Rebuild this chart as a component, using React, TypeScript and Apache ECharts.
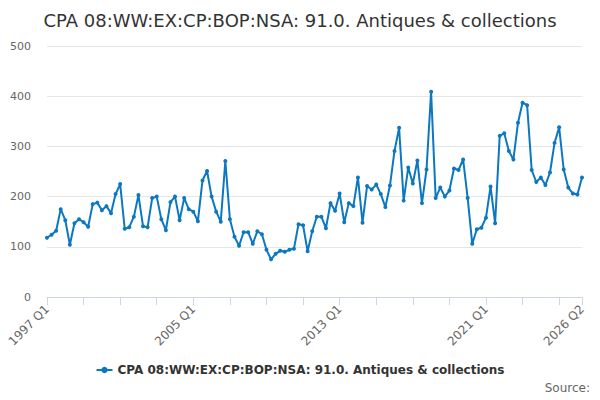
import React, { useEffect, useRef } from "react";
import * as echarts from "echarts";

const TITLE = "CPA 08:WW:EX:CP:BOP:NSA: 91.0. Antiques & collections";
const FIRST_YEAR = 1997;
const QUARTERS = ["Q1", "Q2", "Q3", "Q4"];
const values = [
  118, 124, 132, 175, 153, 104, 147, 155, 149, 140,
  185, 188, 173, 181, 167, 205, 225, 136, 139, 160,
  203, 141, 139, 197, 200, 155, 133, 189, 200, 153,
  197, 175, 170, 151, 232, 251, 200, 170, 150, 271,
  155, 120, 102, 129, 129, 106, 131, 125, 94, 75,
  86, 92, 90, 94, 96, 145, 143, 91, 131, 160,
  160, 137, 187, 172, 206, 149, 187, 181, 238, 148,
  221, 214, 224, 205, 179, 222, 291, 337, 192, 258,
  226, 272, 187, 254, 409, 197, 218, 200, 212, 256,
  253, 274, 197, 106, 135, 138, 158, 220, 147, 321,
  326, 291, 274, 347, 387, 382, 253, 229, 238, 223,
  248, 307, 338, 254, 218, 206, 204, 238,
];
const categories: string[] = values.map(
  (_, i) => `${FIRST_YEAR + Math.floor(i / 4)} ${QUARTERS[i % 4]}`
);
const yTicks = [0, 100, 200, 300, 400, 500];

export default function App() {
  const ref = useRef<HTMLDivElement>(null);
  useEffect(() => {
    if (!ref.current) return;
    const chart = echarts.init(ref.current, undefined, { renderer: "svg" });
    const last = categories.length - 1;
    const font = "'DejaVu Sans', Verdana, sans-serif";
    chart.setOption({
      animation: false,
      textStyle: { fontFamily: font },
      title: {
        text: TITLE,
        left: "center",
        top: 6,
        textStyle: { fontFamily: font, fontSize: 18, fontWeight: "normal", color: "#333333" },
      },
      grid: { left: 47, right: 18, top: 46, bottom: 103 },
      legend: {
        bottom: 19,
        left: "center",
        itemWidth: 16,
        itemHeight: 8,
        textStyle: { fontFamily: font, fontSize: 12, fontWeight: "bold", color: "#333333" },
        data: [TITLE],
      },
      xAxis: {
        type: "category",
        boundaryGap: false,
        data: categories,
        axisLine: { lineStyle: { color: "#ccd6eb" } },
        axisTick: {
          length: 8,
          interval: (i: number) => i % 8 === 0 || i === last,
          lineStyle: { color: "#ccd6eb" },
        },
        axisLabel: {
          interval: (i: number) => i % 32 === 0 || i === last,
          rotate: 45,
          color: "#666666",
          fontSize: 12,
          fontFamily: font,
          margin: 10,
        },
        splitLine: { show: false },
      },
      yAxis: {
        type: "value",
        min: yTicks[0],
        max: yTicks[yTicks.length - 1],
        interval: 100,
        axisLine: { show: false },
        axisTick: { show: false },
        axisLabel: { color: "#666666", fontSize: 11, fontFamily: font, margin: 16 },
        splitLine: { lineStyle: { color: "#e6e6e6" } },
      },
      series: [
        {
          name: TITLE,
          type: "line",
          data: values,
          symbol: "circle",
          symbolSize: 4,
          showAllSymbol: true,
          lineStyle: { width: 2, color: "#0b78c1" },
          itemStyle: { color: "#0b78c1" },
        },
      ],
      graphic: [
        {
          type: "text",
          right: 10,
          top: 382,
          style: { text: "Source:", fill: "#666666", fontSize: 12, fontFamily: font },
        },
      ],
    });
    return () => chart.dispose();
  }, []);
  return <div ref={ref} style={{ width: 600, height: 400, margin: -8 }} />;
}
